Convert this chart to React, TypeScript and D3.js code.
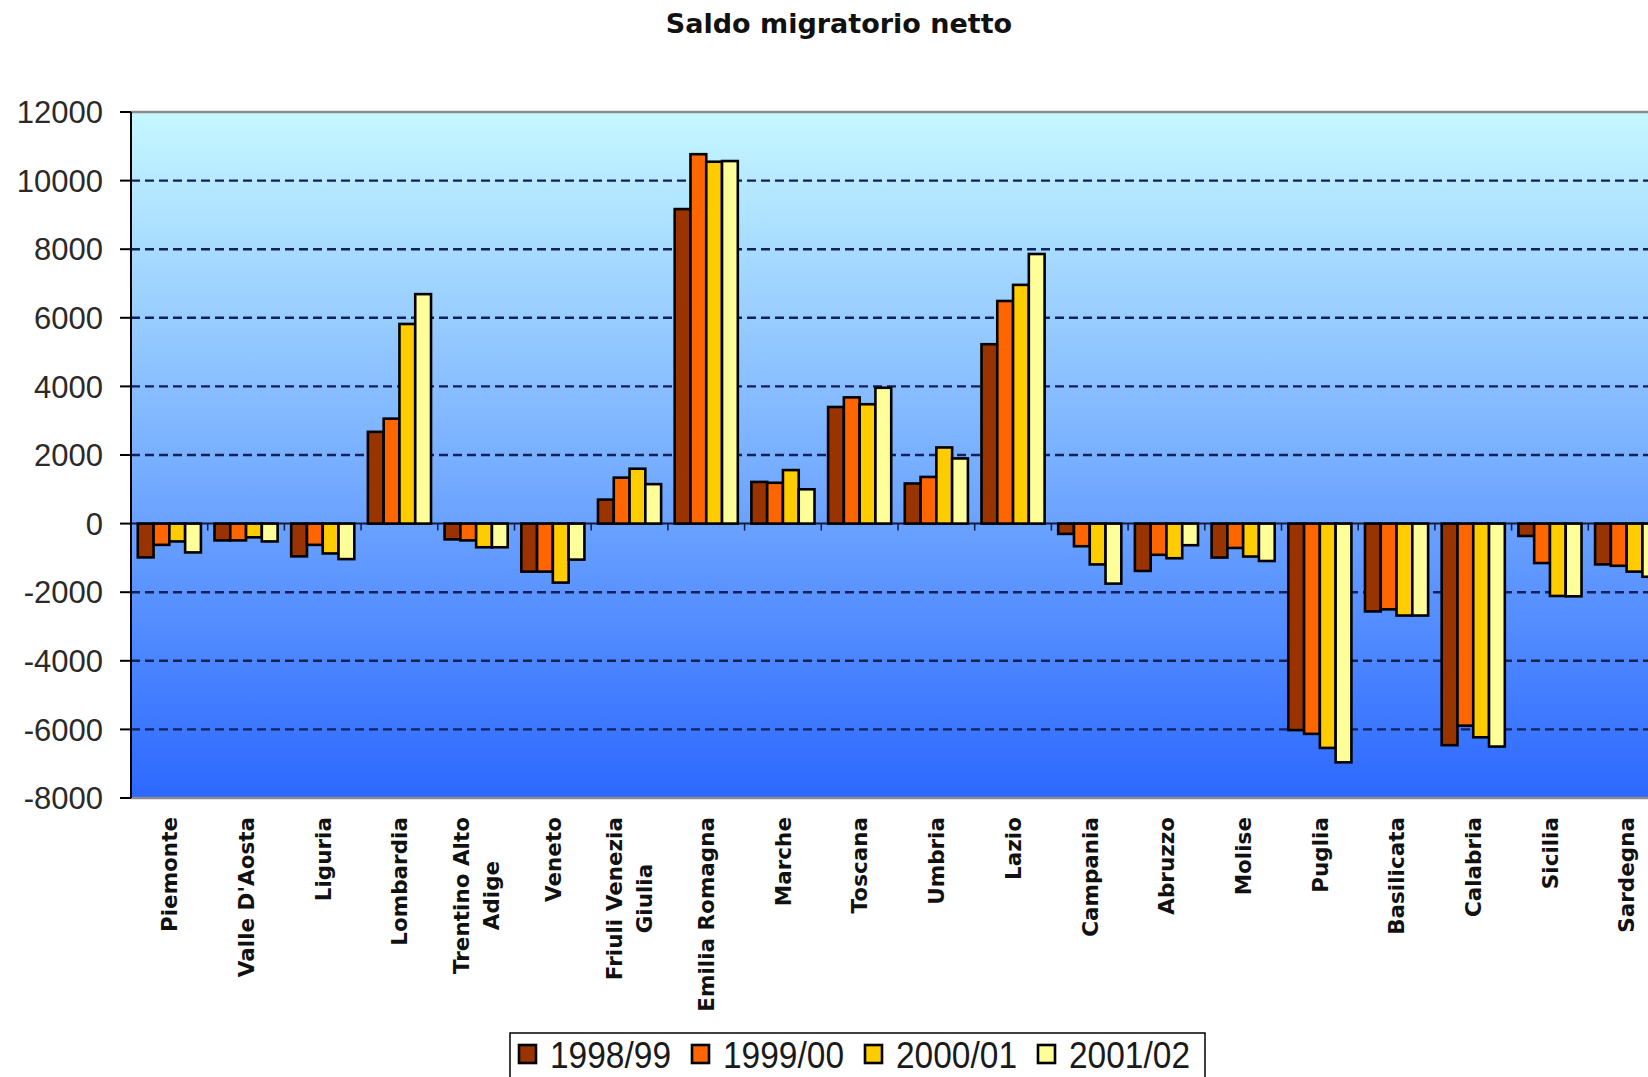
import React, { useEffect, useRef } from 'react';
import * as d3 from 'd3';

// Saldo migratorio netto per regione, 4 anni accademici.

const regions = [
  'Piemonte', "Valle D'Aosta", 'Liguria', 'Lombardia', 'Trentino Alto\nAdige', 'Veneto',
  'Friuli Venezia\nGiulia', 'Emilia Romagna', 'Marche', 'Toscana', 'Umbria', 'Lazio',
  'Campania', 'Abruzzo', 'Molise', 'Puglia', 'Basilicata', 'Calabria', 'Sicilia', 'Sardegna',
];

const seriesNames = ['1998/99', '1999/00', '2000/01', '2001/02'];
const seriesColors = ['#993300', '#FF6600', '#FFCC00', '#FFFF99'];

const v1998 = [-985, -490, -955, 2675, -460, -1400, 700, 9170, 1215, 3400, 1170, 5230, -300, -1380, -990, -6020, -2560, -6460, -360, -1190];
const v1999 = [-620, -490, -620, 3060, -490, -1400, 1340, 10770, 1190, 3680, 1360, 6490, -660, -910, -710, -6130, -2500, -5890, -1150, -1230];
const v2000 = [-520, -400, -870, 5820, -690, -1720, 1600, 10550, 1560, 3480, 2220, 6960, -1190, -1010, -960, -6540, -2680, -6230, -2110, -1400];
const v2001 = [-840, -520, -1035, 6690, -690, -1050, 1150, 10570, 1000, 3960, 1900, 7860, -1750, -630, -1090, -6960, -2680, -6500, -2120, -1550];

const yTicks = [-8000, -6000, -4000, -2000, 0, 2000, 4000, 6000, 8000, 10000, 12000];

const W = 1648;
const H = 1077;

export default function App() {
  const ref = useRef<SVGSVGElement>(null);

  useEffect(() => {
    if (!ref.current) return;
    const svg = d3.select(ref.current);
    svg.selectAll('*').remove();

    const left = 131;
    const top = 112;
    const bottom = 798;
    const step = 76.7;
    const right = left + step * regions.length; // runs past the picture edge, as in the source

    const x0 = d3.scaleBand<string>().domain(regions).range([left, right]).padding(0);
    const x1 = d3.scaleBand<string>().domain(seriesNames).range([0, x0.bandwidth()])
      .paddingInner(0).paddingOuter(0.43);
    const y = d3.scaleLinear().domain([-8000, 12000]).range([bottom, top]);

    const series = [v1998, v1999, v2000, v2001];

    // background gradient of the plot area
    const defs = svg.append('defs');
    const grad = defs.append('linearGradient').attr('id', 'plotbg')
      .attr('x1', 0).attr('y1', 0).attr('x2', 0).attr('y2', 1);
    grad.append('stop').attr('offset', '0%').attr('stop-color', '#C6F8FF');
    grad.append('stop').attr('offset', '100%').attr('stop-color', '#2C68FF');

    svg.append('rect').attr('x', 0).attr('y', 0).attr('width', W).attr('height', H).attr('fill', '#fff');
    svg.append('rect').attr('x', left).attr('y', top).attr('width', right - left).attr('height', bottom - top)
      .attr('fill', 'url(#plotbg)');

    // dashed gridlines
    for (const t of yTicks) {
      if (t === 0 || t === 12000 || t === -8000) continue;
      svg.append('line').attr('x1', left).attr('x2', right).attr('y1', y(t)).attr('y2', y(t))
        .attr('stroke', '#13205a').attr('stroke-width', 2.4).attr('stroke-dasharray', '9,5');
    }

    // frame top / bottom
    svg.append('line').attr('x1', left).attr('x2', right).attr('y1', top).attr('y2', top)
      .attr('stroke', '#8c8c8c').attr('stroke-width', 2.5);
    svg.append('line').attr('x1', left).attr('x2', right).attr('y1', bottom).attr('y2', bottom)
      .attr('stroke', '#8c8c8c').attr('stroke-width', 2.5);

    // category axis at zero
    svg.append('line').attr('x1', left).attr('x2', right).attr('y1', y(0)).attr('y2', y(0))
      .attr('stroke', '#101a44').attr('stroke-width', 2);
    regions.forEach((r, i) => {
      if (i === 0) return;
      const xx = x0(r)!;
      svg.append('line').attr('x1', xx).attr('x2', xx).attr('y1', y(0)).attr('y2', y(0) + 7)
        .attr('stroke', '#101a44').attr('stroke-width', 1.5);
    });

    // bars
    regions.forEach((r, i) => {
      const g = svg.append('g').attr('transform', `translate(${x0(r)},0)`);
      series.forEach((vals, s) => {
        const v = vals[i];
        g.append('rect')
          .attr('x', x1(seriesNames[s])!)
          .attr('width', x1.bandwidth())
          .attr('y', Math.min(y(v), y(0)))
          .attr('height', Math.abs(y(v) - y(0)))
          .attr('fill', seriesColors[s])
          .attr('stroke', '#000')
          .attr('stroke-width', 2.6);
      });
    });

    // value axis
    svg.append('line').attr('x1', left).attr('x2', left).attr('y1', top).attr('y2', bottom)
      .attr('stroke', '#000').attr('stroke-width', 2);
    for (const t of yTicks) {
      svg.append('line').attr('x1', left - 11).attr('x2', left).attr('y1', y(t)).attr('y2', y(t))
        .attr('stroke', '#000').attr('stroke-width', 2);
      svg.append('text').attr('x', 103).attr('y', y(t)).attr('dy', '0.36em')
        .attr('text-anchor', 'end').attr('font-family', 'Liberation Sans, Arial, sans-serif')
        .attr('font-size', 31).attr('fill', '#2a2a2a').text(t);
    }

    // rotated category labels; multi-line labels are centred on each other
    regions.forEach((r) => {
      const lines = r.split('\n');
      const cx = x0(r)! + x0.bandwidth() / 2;
      const g = svg.append('g').attr('transform', `translate(${cx},817) rotate(-90)`);
      const texts = lines.map((ln, k) => g.append('text')
        .attr('y', (k - (lines.length - 1) / 2) * 30)
        .attr('dy', '0.36em')
        .attr('font-family', 'DejaVu Sans, Verdana, sans-serif')
        .attr('font-weight', 'bold').attr('font-size', 21.5).attr('fill', '#111')
        .attr('text-anchor', 'middle').text(ln));
      const widths = texts.map((t) => (t.node() as SVGTextElement).getComputedTextLength());
      const m = Math.max(...widths);
      texts.forEach((t) => t.attr('x', -m / 2));
    });

    // title
    svg.append('text').attr('x', 839).attr('y', 33).attr('text-anchor', 'middle')
      .attr('font-family', 'DejaVu Sans, Verdana, sans-serif').attr('font-weight', 'bold')
      .attr('font-size', 27).attr('fill', '#111').text('Saldo migratorio netto');

    // legend
    svg.append('rect').attr('x', 510).attr('y', 1033).attr('width', 695).attr('height', 80)
      .attr('fill', '#fff').attr('stroke', '#000').attr('stroke-width', 1.5);
    seriesNames.forEach((name, s) => {
      const lx = 519 + s * 173;
      svg.append('rect').attr('x', lx).attr('y', 1045).attr('width', 17).attr('height', 18)
        .attr('fill', seriesColors[s]).attr('stroke', '#000').attr('stroke-width', 2.6);
      svg.append('text').attr('x', lx + 31).attr('y', 1068)
        .attr('font-family', 'Liberation Sans, Arial, sans-serif').attr('font-size', 37)
        .attr('textLength', 121).attr('lengthAdjust', 'spacingAndGlyphs')
        .attr('fill', '#1a1a1a').text(name);
    });
  }, []);

  return (
    <svg ref={ref} width={W} height={H}
      style={{ position: 'absolute', left: 0, top: 0, display: 'block' }} />
  );
}
